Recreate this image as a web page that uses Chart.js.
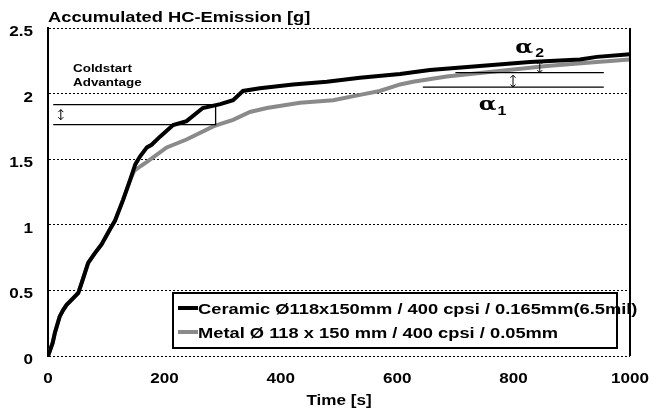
<!DOCTYPE html>
<html>
<head>
<meta charset="utf-8">
<script src="https://cdn.jsdelivr.net/npm/chart.js@4.4.0/dist/chart.umd.min.js"></script>
<style>
  html, body { margin: 0; padding: 0; background: #fff; }
</style>
</head>
<body>
<canvas id="myChart" width="653" height="416"></canvas>
<script>
// values
const ceramicTime = [0, 8, 12, 20, 26, 32, 43, 52, 58, 69, 80, 92, 107, 115, 129, 141, 150, 158, 170, 178, 192, 215, 238, 266, 296, 318, 335, 364, 421, 479, 536, 605, 656, 742, 828, 914, 943, 1000];
const ceramicHC = [0, 0.10, 0.18, 0.30, 0.35, 0.39, 0.44, 0.48, 0.56, 0.71, 0.78, 0.85, 0.97, 1.03, 1.19, 1.34, 1.46, 1.52, 1.59, 1.61, 1.67, 1.76, 1.79, 1.89, 1.92, 1.95, 2.02, 2.04, 2.07, 2.09, 2.12, 2.15, 2.18, 2.21, 2.24, 2.26, 2.28, 2.30];
const metalTime = [0, 8, 12, 20, 26, 32, 43, 52, 58, 69, 80, 92, 107, 115, 129, 141, 148, 160, 170, 204, 238, 284, 290, 318, 347, 376, 433, 490, 536, 570, 605, 627, 685, 771, 857, 943, 1000];
const metalHC = [0, 0.10, 0.18, 0.30, 0.35, 0.39, 0.44, 0.48, 0.56, 0.71, 0.78, 0.85, 0.97, 1.03, 1.19, 1.34, 1.41, 1.45, 1.48, 1.59, 1.65, 1.75, 1.76, 1.80, 1.86, 1.89, 1.93, 1.95, 1.99, 2.02, 2.07, 2.09, 2.13, 2.17, 2.21, 2.24, 2.26];

const xTicks = [0, 200, 400, 600, 800, 1000];
const yTicks = [0, 0.5, 1, 1.5, 2, 2.5];
const seriesNames = [
  "Ceramic \u00d8118x150mm / 400 cpsi / 0.165mm(6.5mil)",
  "Metal \u00d8 118 x 150 mm / 400 cpsi / 0.05mm"
];
const seriesColors = ["#000000", "#8a8a8a"];
const chartTitle = "Accumulated HC-Emission [g]";
const xTitle = "Time [s]";

// annotations, in data units
const coldstartText = ["Coldstart", "Advantage"];
const coldstartLevels = [1.916, 1.763];
const coldstartFrom = 9;
const coldstartTo = 288;
const coldstartArrowAt = 22;
const alphaLevels = [2.16, 2.05];
const alphaFrom = [700, 644];
const alphaTo = 955;
const alpha2Arrow = [845, 2.245, 2.16];
const alpha1Arrow = [799, 2.14, 2.05];
const alphaLabelX = [803, 740];

const SX = 1.22; // the picture's text is stretched sideways

function txt(ctx, s, x, y, font, align) {
  ctx.save();
  ctx.font = font;
  ctx.fillStyle = "#000";
  ctx.textBaseline = "alphabetic";
  const w = ctx.measureText(s).width * SX;
  let x0 = x;
  if (align === "right") x0 = x - w;
  if (align === "center") x0 = x - w / 2;
  ctx.translate(x0, y);
  ctx.scale(SX, 1);
  ctx.fillText(s, 0, 0);
  ctx.restore();
  return w;
}

function arrow(ctx, x, y1, y2) {
  ctx.save();
  ctx.setLineDash([]);
  ctx.strokeStyle = "#000";
  ctx.lineWidth = 1;
  ctx.beginPath();
  ctx.moveTo(x, y1); ctx.lineTo(x, y2);
  ctx.moveTo(x - 2.5, y1 + 2.5); ctx.lineTo(x, y1); ctx.lineTo(x + 2.5, y1 + 2.5);
  ctx.moveTo(x - 2.5, y2 - 2.5); ctx.lineTo(x, y2); ctx.lineTo(x + 2.5, y2 - 2.5);
  ctx.stroke();
  ctx.restore();
}

const decor = {
  id: "decor",
  afterDatasetsDraw(chart) {
    const ctx = chart.ctx;
    const xs = chart.scales.x, ys = chart.scales.y;
    const a = chart.chartArea;
    ctx.save();
    ctx.setLineDash([]);
    // right frame
    ctx.fillStyle = "#000";
    ctx.fillRect(Math.round(a.right) - 1, a.top, 2, a.bottom - a.top);

    // coldstart bracket
    ctx.strokeStyle = "#000";
    ctx.lineWidth = 1.3;
    ctx.beginPath();
    const cx1 = xs.getPixelForValue(coldstartFrom), cx2 = xs.getPixelForValue(coldstartTo);
    const cy1 = ys.getPixelForValue(coldstartLevels[0]), cy2 = ys.getPixelForValue(coldstartLevels[1]);
    ctx.moveTo(cx1, cy1); ctx.lineTo(cx2, cy1); ctx.lineTo(cx2, cy2); ctx.lineTo(cx1, cy2);
    ctx.stroke();
    arrow(ctx, xs.getPixelForValue(coldstartArrowAt), cy1 + 5, cy2 - 5);

    // alpha lines
    ctx.beginPath();
    alphaLevels.forEach((v, i) => {
      const y = ys.getPixelForValue(v);
      ctx.moveTo(xs.getPixelForValue(alphaFrom[i]), y);
      ctx.lineTo(xs.getPixelForValue(alphaTo), y);
    });
    ctx.stroke();
    [alpha2Arrow, alpha1Arrow].forEach(p => {
      arrow(ctx, xs.getPixelForValue(p[0]), ys.getPixelForValue(p[1]), ys.getPixelForValue(p[2]));
    });
    ctx.restore();
  },
  afterDraw(chart) {
    const ctx = chart.ctx;
    const xs = chart.scales.x, ys = chart.scales.y;
    const a = chart.chartArea;

    // title and axis labels
    txt(ctx, chartTitle, a.left, 22, "bold 15px Arial", "left");
    xTicks.forEach(v => txt(ctx, String(v), xs.getPixelForValue(v), a.bottom + 27, "bold 14px Arial", "center"));
    yTicks.forEach(v => txt(ctx, String(v), a.left - 15, ys.getPixelForValue(v) + 8, "bold 14px Arial", "right"));
    txt(ctx, xTitle, (a.left + a.right) / 2, 405, "bold 14px Arial", "center");

    // annotation texts
    txt(ctx, coldstartText[0], 73, 72, "bold 11px Arial", "left");
    txt(ctx, coldstartText[1], 73, 86, "bold 11px Arial", "left");
    const a2x = xs.getPixelForValue(alphaLabelX[0]);
    const a1x = xs.getPixelForValue(alphaLabelX[1]);
    let w = txt(ctx, "\u03b1", a2x, 53, "bold 19px 'DejaVu Serif'", "left");
    txt(ctx, "2", a2x + w + 2, 57, "bold 13px Arial", "left");
    w = txt(ctx, "\u03b1", a1x, 110, "bold 19px 'DejaVu Serif'", "left");
    txt(ctx, "1", a1x + w + 1, 115, "bold 13px Arial", "left");

    // legend box
    const lx = 173, ly = 293, lw = 444, lh = 55;
    ctx.save();
    ctx.setLineDash([]);
    ctx.fillStyle = "#fff";
    ctx.fillRect(lx, ly, lw, lh);
    ctx.strokeStyle = "#000";
    ctx.lineWidth = 2;
    ctx.strokeRect(lx, ly, lw, lh);
    seriesNames.forEach((name, i) => {
      const yy = ly + 15 + i * 24;
      ctx.strokeStyle = seriesColors[i];
      ctx.lineWidth = 4;
      ctx.beginPath();
      ctx.moveTo(lx + 5, yy); ctx.lineTo(lx + 25, yy);
      ctx.stroke();
      txt(ctx, name, lx + 25, yy + 6, "bold 15px Arial", "left");
    });
    ctx.restore();
  }
};

const ctx = document.getElementById("myChart").getContext("2d");
const myChart = new Chart(ctx, {
  type: "line",
  data: {
    datasets: [
      {
        label: seriesNames[0],
        data: ceramicTime.map((t, i) => ({ x: t, y: ceramicHC[i] })),
        borderColor: seriesColors[0],
        borderWidth: 4,
        pointRadius: 0,
        tension: 0,
        fill: false
      },
      {
        label: seriesNames[1],
        data: metalTime.map((t, i) => ({ x: t, y: metalHC[i] })),
        borderColor: seriesColors[1],
        borderWidth: 4,
        pointRadius: 0,
        tension: 0,
        fill: false
      }
    ]
  },
  options: {
    responsive: false,
    animation: false,
    layout: { padding: { top: 28, right: 23, left: 0, bottom: 0 } },
    plugins: { legend: { display: false }, tooltip: { enabled: false } },
    scales: {
      x: {
        type: "linear",
        min: 0,
        max: 1000,
        ticks: { stepSize: 200, display: false },
        grid: { display: false, drawTicks: false },
        border: { display: false },
        afterFit: (s) => { s.height = 60; }
      },
      y: {
        min: 0,
        max: 2.5,
        ticks: { stepSize: 0.5, display: false },
        grid: { color: "#000", lineWidth: 1, drawTicks: false },
        border: { display: true, color: "#000", width: 2, dash: [2, 2] },
        afterFit: (s) => { s.width = 48; }
      }
    }
  },
  plugins: [decor]
});
</script>
</body>
</html>
